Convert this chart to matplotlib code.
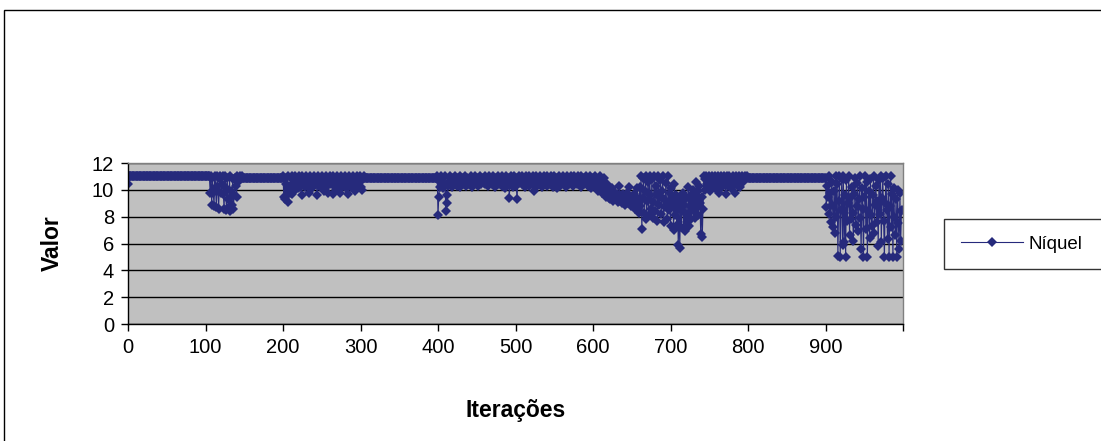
import numpy as np
import matplotlib
matplotlib.use('Agg')
import matplotlib.pyplot as plt
from matplotlib.patches import Rectangle

plt.rcParams['font.family'] = ['Liberation Sans', 'DejaVu Sans']

# Níquel value per iteration, kept in stretches (flat runs and noisy runs)
valor_000 = [10.4]
valor_001 = [11.0] * 104
valor_105 = [11, 9.8, 11, 8.9, 10.9, 9.8, 8.8, 11, 10.2, 8.7,
             11, 9.9, 8.6, 10.9, 11, 9.8, 10.4, 11, 9.7, 8.6,
             11, 10.1, 8.5, 10.9, 9.3, 8.7, 11, 8.4, 9.9, 8.9,
             10.8, 8.6, 9.6, 10.9, 10.3, 9.5, 11, 10.6, 10.8, 10.9,
             11, 10.9, 11]
valor_148 = [10.9] * 52
valor_200 = [11, 9.5, 10.9, 9.3, 10.4, 9.6, 11, 9.1, 10.2, 9.8,
             10.9, 9.7, 11, 10.5, 9.9, 10.8, 11, 10.3, 10.9, 10.1,
             11, 10.6, 10.2, 10.9, 9.6, 11, 10.4, 10.8, 10.9, 10.2,
             11, 10.7, 10.3, 10.9, 9.8, 11, 10.5, 10.9, 10.1, 10.8,
             11, 10.4, 10.9, 10.6, 9.6, 11, 10.3, 10.8, 10.9, 10.2,
             11, 10.5, 10.9, 9.9, 10.7, 11, 10.2, 10.8, 9.8, 10.9,
             11, 10.4, 10.9, 10.6, 9.7, 11, 10.3, 10.9, 10.5, 10.0,
             11, 10.6, 10.9, 9.8, 10.8, 11, 10.2, 10.7, 10.9, 10.4,
             11, 10.1, 10.9, 10.6, 9.7, 11, 10.5, 10.8, 10.2, 10.9,
             11, 10.4, 10.9, 9.9, 10.6, 11, 10.1, 10.8, 10.3, 11,
             10.2, 10.9, 10.0, 10.8, 11, 10.9]
valor_306 = [10.9] * 93
valor_399 = [11, 8.1, 9.5, 10.6, 10.2, 11, 10.5, 10.9, 10.1, 10.4,
             11, 8.4, 9.0, 9.6, 10.3, 10.6, 11, 10.4, 10.8, 10.2, 10.9]
valor_420 = [10.8, 10.4, 11, 10.6, 10.3, 10.9, 10.5, 10.7, 10.2, 11,
             10.6, 10.9, 10.4, 10.8, 10.5, 11, 10.3, 10.7, 10.9, 10.4,
             10.8, 10.5, 11, 10.6, 10.2, 10.9, 10.7, 10.4, 11, 10.6,
             10.5, 10.9, 10.3, 10.8, 11, 10.6, 10.4, 10.9, 10.7, 10.5,
             11, 10.4, 10.8, 10.6, 10.9, 10.3, 11, 10.5, 10.7, 10.9,
             10.4, 11, 10.6, 10.8, 10.2, 10.9, 10.5, 11, 10.7, 10.4,
             10.9, 10.6, 11, 10.3, 10.8, 10.5, 10.9, 10.1, 11, 10.6,
             10.4, 10.9, 9.4, 10.7, 11, 10.5, 10.8, 10.2, 11, 10.6,
             10.9, 10.3, 9.3, 10.8, 11, 10.5, 10.7, 10.9, 10.4, 11,
             10.6, 10.8, 10.2, 10.9, 11, 10.5, 10.7, 10.3, 11, 10.6,
             10.9, 10.4, 10.8, 11, 9.9, 10.7, 10.5, 11, 10.3, 10.9,
             10.6, 11, 10.4, 10.8, 10.2, 10.9, 10.6, 11, 10.5, 10.8,
             10.3, 11, 10.7, 10.9, 10.4, 10.8, 11, 10.5, 10.2, 10.9,
             11, 10.6, 10.8, 10.1, 10.9, 10.5, 11, 10.7, 10.3, 10.9,
             10.6, 11, 10.4, 10.8, 10.9, 10.2, 11, 10.6, 10.8, 10.4,
             10.9, 11, 10.5, 10.7, 10.3, 10.9, 11, 10.6, 10.8, 10.4,
             11, 10.7, 10.5, 10.9, 10.2, 11, 10.6, 10.8, 10.4, 10.9,
             10.7, 11, 10.5, 10.8, 10.3, 10.9, 11, 10.1, 10.6, 10.4]
valor_600 = [10.9, 10.4, 11, 10.2, 10.8, 10.5, 9.9, 10.7, 10.3, 11,
             10.6, 10.1, 9.8, 10.5, 10.9, 9.7, 10.2, 9.5, 10.4, 9.6,
             9.4, 9.9, 9.3, 9.7, 9.5, 10.1, 9.2, 9.6, 9.4, 9.8,
             9.3, 9.7, 9.1, 9.5, 10.3, 9.2, 9.6, 9.4, 9.0, 9.7,
             9.3, 8.9, 9.5, 9.2, 9.8, 9.0, 9.4, 10.2, 9.1, 8.8,
             9.5, 9.2, 9.0, 9.7, 8.6, 9.4, 8.9, 10.1, 9.3, 8.3]
valor_660 = [10.2, 8.8, 11, 7.1, 9.4, 10.9, 8.3, 9.9, 11, 7.8,
             9.2, 10.6, 8.1, 11, 9.6, 8.6, 10.8, 7.9, 9.1, 11,
             8.4, 10.3, 9.7, 7.7, 11, 8.9, 9.5, 10.7, 8.2, 9.9,
             11, 7.6, 9.3, 8.7, 10.5, 9.0, 7.8, 11, 8.5, 9.8,
             7.3, 10.1, 8.8, 9.4, 7.0, 10.4, 8.1, 9.6, 7.4, 9.0,
             5.9, 8.6, 5.7, 9.3, 7.2, 8.4, 9.8, 7.1, 8.9, 6.9,
             9.4, 7.6, 8.2, 10.2, 7.3, 8.8, 9.6, 7.8, 9.2, 10.0,
             8.4, 9.7, 7.9, 10.6, 8.7, 9.9, 8.1, 10.3, 9.0, 6.7,
             9.5, 6.5, 8.6, 11, 10.0, 10.8]
valor_746 = [11, 10.4, 10.9, 10.2, 11, 9.9, 10.7, 10.5, 11, 10.3,
             10.8, 11, 10.1, 10.9, 10.6, 11, 9.8, 10.7, 10.4, 11,
             10.9, 10.2, 10.8, 11, 10.5, 9.7, 10.9, 11, 10.3, 10.8,
             11, 10.6, 10.1, 10.9, 11, 10.4, 10.8, 9.8, 11, 10.5,
             10.9, 10.3, 11, 10.7, 10.2, 10.9, 11, 10.6, 10.8, 10.9,
             11, 10.9, 10.9, 11, 10.9]
valor_801 = [10.9] * 99
valor_900 = [10.9, 8.7, 10.3, 9.5, 11, 8.2, 9.8, 7.6, 10.6, 8.9,
             7.2, 9.9, 6.8, 11, 8.0, 10.4, 5.1, 9.2, 11, 5.0,
             8.5, 10.8, 5.9, 11, 6.1, 9.6, 5.0, 10.7, 7.7, 9.0,
             11, 6.6, 9.4, 7.8, 10.2, 8.3, 6.2, 9.7, 10.9, 7.4,
             8.8, 10.5, 6.9, 9.3, 11, 7.9, 5.6, 10.1, 8.6, 5.0,
             9.5, 11, 7.1, 10.6, 5.0, 8.4, 9.9, 6.4, 10.8, 8.1,
             7.3, 9.6, 11, 6.8, 8.9, 10.3, 7.6, 9.2, 5.8, 10.7,
             8.2, 11, 6.1, 9.4, 10.9, 7.7, 5.0, 9.0, 11, 8.5,
             6.3, 10.4, 5.0, 8.8, 11, 7.2, 9.7, 5.0, 10.1, 8.0,
             6.6, 9.3, 5.0, 10.0, 7.5, 5.6, 9.8, 6.2, 8.4, 8.5]

valor = np.concatenate([valor_000, valor_001, valor_105, valor_148, valor_200,
                        valor_306, valor_399, valor_420, valor_600, valor_660,
                        valor_746, valor_801, valor_900])
iteracoes = np.arange(len(valor))

x_ticks = [0, 100, 200, 300, 400, 500, 600, 700, 800, 900, 1000]
x_labels = ['0', '100', '200', '300', '400', '500', '600', '700', '800', '900', '']
y_ticks = [0, 2, 4, 6, 8, 10, 12]

W, H = 1101, 441
fig = plt.figure(figsize=(W / 100, H / 100), dpi=100)

# chart-area border (runs off the right and bottom edges)
fig.patches.append(Rectangle((4 / W, -0.1), 1.2, 1.1 - 10 / H,
                             transform=fig.transFigure, fill=False,
                             edgecolor='black', linewidth=1.0))

ax = fig.add_axes([128 / W, 1 - 324 / H, (903 - 128) / W, (324 - 163) / H])
ax.set_facecolor('#c0c0c0')
for side in ['top', 'right']:
    ax.spines[side].set_color('#808080')
for side in ['left', 'bottom']:
    ax.spines[side].set_color('black')
for sp in ax.spines.values():
    sp.set_linewidth(1.0)

ax.set_axisbelow(True)
ax.yaxis.grid(True, color='black', linewidth=1.0)

ax.plot(iteracoes, valor, color='#262a7c', linewidth=0.8,
        marker='D', markersize=5.2, markeredgewidth=0, label='Níquel')

ax.set_xlim(0, 1000)
ax.set_ylim(0, 12)
ax.set_xticks(x_ticks)
ax.set_xticklabels(x_labels)
ax.set_yticks(y_ticks)
ax.tick_params(axis='both', direction='out', length=5, width=1,
               labelsize=14.5, colors='black', pad=5)

ax.set_ylabel('Valor', fontsize=16.5, fontweight='bold', labelpad=20)
ax.set_xlabel('Iterações', fontsize=16.5, fontweight='bold', labelpad=30)

leg = fig.legend(loc='center left',
                 bbox_to_anchor=(944 / W, 1 - 268 / H, 0.2, 48 / H),
                 mode='expand', borderaxespad=0, frameon=True, fancybox=False,
                 fontsize=13.5, handlelength=3.3, borderpad=0.9,
                 handletextpad=0.3)
leg.get_frame().set_edgecolor('black')
leg.get_frame().set_linewidth(1.0)

fig.savefig('out.png', dpi=100)
